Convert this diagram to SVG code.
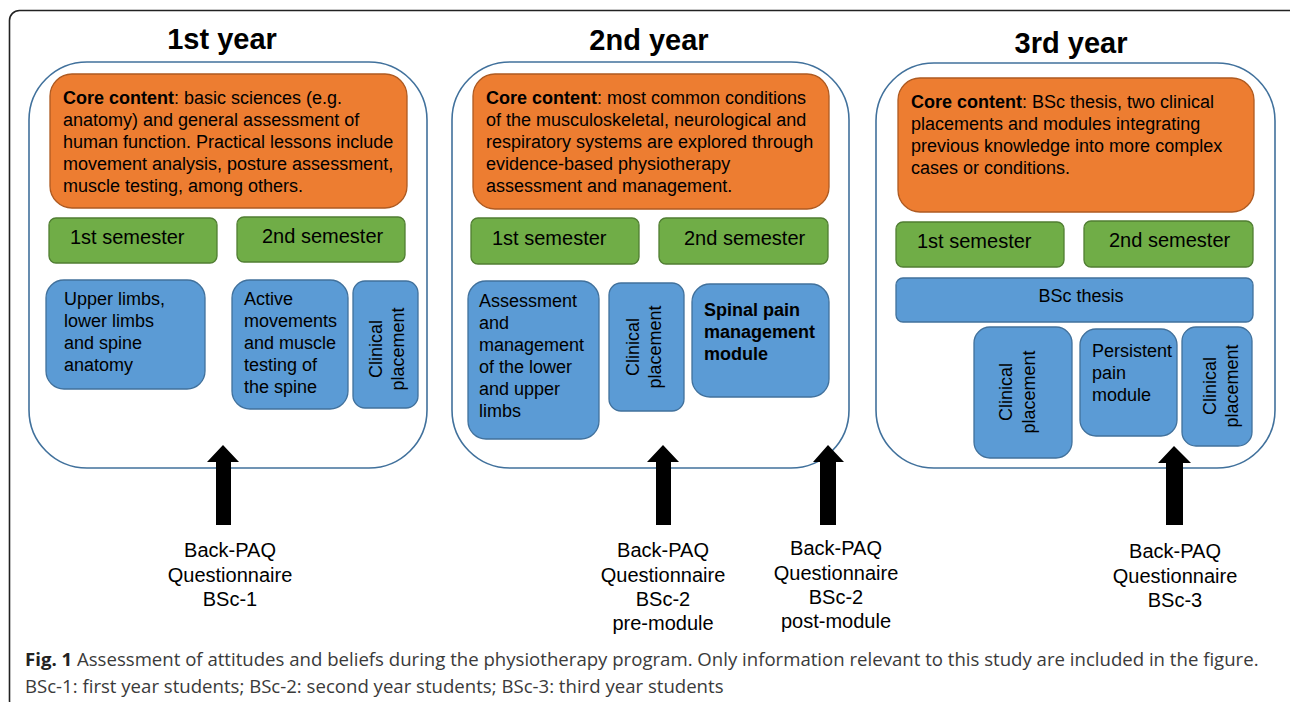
<svg xmlns="http://www.w3.org/2000/svg" width="1290" height="702" viewBox="0 0 1290 702">
<style>
.t{font-family:"Liberation Sans",Arial,sans-serif;fill:#000}
.title{font-size:29px;font-weight:bold}
.body{font-size:18px}
.sem{font-size:20px}
.lab{font-size:20px;text-anchor:middle}
.b{font-weight:bold}
.cont{fill:#fff;stroke:#41719C;stroke-width:1.6}
.core{fill:#ED7D31;stroke:#AE5A21;stroke-width:1.3}
.green{fill:#70AD47;stroke:#507E32;stroke-width:1.3}
.blue{fill:#5B9BD5;stroke:#41719C;stroke-width:1.3}
.cap{font-family:"Open Sans","Liberation Sans",sans-serif;font-size:18.6px;fill:#3a3a3a}
.mid{text-anchor:middle}
</style>
<rect x="9.5" y="10.5" width="1290" height="700" rx="10" fill="#fff" stroke="#222" stroke-width="1.6"/>

<g id="year1">
<text class="t title mid" x="222" y="49">1st year</text>
<rect class="cont" x="29" y="62" width="398" height="406" rx="58"/>
</g>
<g id="year2">
<text class="t title mid" x="649" y="50">2nd year</text>
<rect class="cont" x="452" y="62" width="397" height="406" rx="58"/>
</g>
<g id="year3">
<text class="t title mid" x="1071" y="53">3rd year</text>
<rect class="cont" x="876" y="63" width="399" height="405" rx="58"/>
</g>

<g id="y1-core">
<rect class="core" x="50" y="74" width="357" height="134" rx="22"/>
<text class="t body" x="63" y="104"><tspan class="b">Core content</tspan>: basic sciences (e.g.</text>
<text class="t body" x="63" y="126">anatomy) and general assessment of</text>
<text class="t body" x="63" y="148">human function. Practical lessons include</text>
<text class="t body" x="63" y="170">movement analysis, posture assessment,</text>
<text class="t body" x="63" y="192">muscle testing, among others.</text>
</g>
<g id="y1-sem1">
<rect class="green" x="49" y="218" width="168" height="45" rx="7"/>
<text class="t sem" x="70" y="244">1st semester</text>
</g>
<g id="y1-sem2">
<rect class="green" x="237" y="217" width="168" height="45" rx="7"/>
<text class="t sem" x="262" y="243">2nd semester</text>
</g>
<g id="y1-anatomy">
<rect class="blue" x="46" y="280" width="159" height="109" rx="18"/>
<text class="t body" x="64" y="305">Upper limbs,</text>
<text class="t body" x="64" y="327">lower limbs</text>
<text class="t body" x="64" y="349">and spine</text>
<text class="t body" x="64" y="371">anatomy</text>
</g>
<g id="y1-active">
<rect class="blue" x="232" y="280" width="116" height="129" rx="18"/>
<text class="t body" x="244" y="305">Active</text>
<text class="t body" x="244" y="327">movements</text>
<text class="t body" x="244" y="349">and muscle</text>
<text class="t body" x="244" y="371">testing of</text>
<text class="t body" x="244" y="393">the spine</text>
</g>
<g id="y1-clinical">
<rect class="blue" x="353" y="281" width="65" height="127" rx="12"/>
<g transform="translate(382,349) rotate(-90)">
<text class="t body mid" x="0" y="0">Clinical</text>
<text class="t body mid" x="0" y="22">placement</text>
</g>
</g>

<g id="y2-core">
<rect class="core" x="473" y="74" width="356" height="135" rx="22"/>
<text class="t body" x="486" y="104"><tspan class="b">Core content</tspan>: most common conditions</text>
<text class="t body" x="486" y="126">of the musculoskeletal, neurological and</text>
<text class="t body" x="486" y="148">respiratory systems are explored through</text>
<text class="t body" x="486" y="170">evidence-based physiotherapy</text>
<text class="t body" x="486" y="192">assessment and management.</text>
</g>
<g id="y2-sem1">
<rect class="green" x="471" y="218" width="168" height="46" rx="7"/>
<text class="t sem" x="492" y="245">1st semester</text>
</g>
<g id="y2-sem2">
<rect class="green" x="659" y="218" width="169" height="46" rx="7"/>
<text class="t sem" x="684" y="245">2nd semester</text>
</g>
<g id="y2-assessment">
<rect class="blue" x="468" y="281" width="131" height="158" rx="18"/>
<text class="t body" x="479" y="307">Assessment</text>
<text class="t body" x="479" y="329">and</text>
<text class="t body" x="479" y="351">management</text>
<text class="t body" x="479" y="373">of the lower</text>
<text class="t body" x="479" y="395">and upper</text>
<text class="t body" x="479" y="417">limbs</text>
</g>
<g id="y2-clinical">
<rect class="blue" x="609" y="283" width="75" height="128" rx="12"/>
<g transform="translate(639,347) rotate(-90)">
<text class="t body mid" x="0" y="0">Clinical</text>
<text class="t body mid" x="0" y="22">placement</text>
</g>
</g>
<g id="y2-spinal">
<rect class="blue" x="692" y="284" width="137" height="113" rx="18"/>
<text class="t body b" x="704" y="316">Spinal pain</text>
<text class="t body b" x="704" y="338">management</text>
<text class="t body b" x="704" y="360">module</text>
</g>

<g id="y3-core">
<rect class="core" x="898" y="78" width="356" height="134" rx="22"/>
<text class="t body" x="911" y="108"><tspan class="b">Core content</tspan>: BSc thesis, two clinical</text>
<text class="t body" x="911" y="130">placements and modules integrating</text>
<text class="t body" x="911" y="152">previous knowledge into more complex</text>
<text class="t body" x="911" y="174">cases or conditions.</text>
</g>
<g id="y3-sem1">
<rect class="green" x="896" y="222" width="168" height="45" rx="7"/>
<text class="t sem" x="917" y="248">1st semester</text>
</g>
<g id="y3-sem2">
<rect class="green" x="1084" y="221" width="169" height="46" rx="7"/>
<text class="t sem" x="1109" y="247">2nd semester</text>
</g>
<g id="y3-thesis">
<rect class="blue" x="896" y="278" width="357" height="44" rx="7"/>
<text class="t body mid" x="1081" y="302">BSc thesis</text>
</g>
<g id="y3-clinical1">
<rect class="blue" x="974" y="327" width="98" height="131" rx="16"/>
<g transform="translate(1012,392) rotate(-90)">
<text class="t body mid" x="0" y="0">Clinical</text>
<text class="t body mid" x="0" y="23">placement</text>
</g>
</g>
<g id="y3-persistent">
<rect class="blue" x="1080" y="329" width="97" height="107" rx="16"/>
<text class="t body" x="1092" y="357">Persistent</text>
<text class="t body" x="1092" y="379">pain</text>
<text class="t body" x="1092" y="401">module</text>
</g>
<g id="y3-clinical2">
<rect class="blue" x="1182" y="327" width="70" height="119" rx="14"/>
<g transform="translate(1216,386) rotate(-90)">
<text class="t body mid" x="0" y="0">Clinical</text>
<text class="t body mid" x="0" y="22">placement</text>
</g>
</g>

<g id="connectors" fill="#000">
<path d="M223,445 L239,462 L231,462 L231,525 L216,525 L216,462 L207,462 Z"/>
<path d="M663,445 L679,462 L671,462 L671,525 L656,525 L656,462 L647,462 Z"/>
<path d="M828,445 L844,462 L836,462 L836,525 L820,525 L820,462 L813,462 Z"/>
<path d="M1174,446 L1191,463 L1183,463 L1183,525 L1166,525 L1166,463 L1158,463 Z"/>
</g>

<g id="label1">
<text class="t lab" x="230" y="557">Back-PAQ</text>
<text class="t lab" x="230" y="582">Questionnaire</text>
<text class="t lab" x="230" y="606">BSc-1</text>
</g>
<g id="label2">
<text class="t lab" x="663" y="557">Back-PAQ</text>
<text class="t lab" x="663" y="582">Questionnaire</text>
<text class="t lab" x="663" y="606">BSc-2</text>
<text class="t lab" x="663" y="630">pre-module</text>
</g>
<g id="label3">
<text class="t lab" x="836" y="555">Back-PAQ</text>
<text class="t lab" x="836" y="580">Questionnaire</text>
<text class="t lab" x="836" y="604">BSc-2</text>
<text class="t lab" x="836" y="628">post-module</text>
</g>
<g id="label4">
<text class="t lab" x="1175" y="558">Back-PAQ</text>
<text class="t lab" x="1175" y="583">Questionnaire</text>
<text class="t lab" x="1175" y="607">BSc-3</text>
</g>

<g id="caption">
<text class="cap" x="25" y="666"><tspan font-weight="bold" fill="#222">Fig. 1</tspan> Assessment of attitudes and beliefs during the physiotherapy program. Only information relevant to this study are included in the figure.</text>
<text class="cap" x="25" y="693">BSc-1: first year students; BSc-2: second year students; BSc-3: third year students</text>
</g>
</svg>
